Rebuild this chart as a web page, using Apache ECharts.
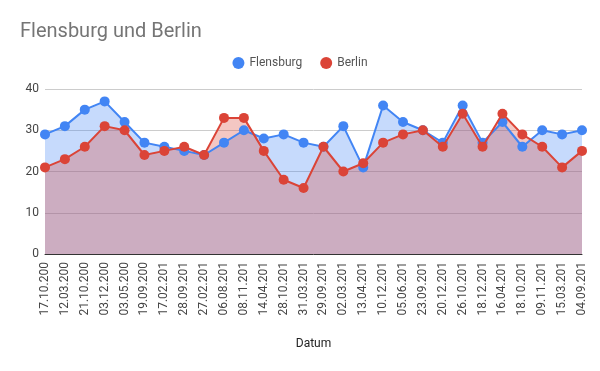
<!DOCTYPE html>
<html><head><meta charset="utf-8">
<script src="https://cdn.jsdelivr.net/npm/echarts@6/dist/echarts.min.js"></script>
<style>html,body{margin:0;padding:0;background:#fff}#c{width:600px;height:371px}</style>
</head><body><div id="c"></div>
<script>
const categories = ["17.10.200","12.03.200","21.10.200","03.12.200","03.05.200","19.09.200","17.02.201","28.09.201","27.02.201","06.08.201","08.11.201","14.04.201","28.10.201","31.03.201","29.09.201","02.03.201","13.04.201","10.12.201","05.06.201","23.09.201","20.12.201","26.10.201","18.12.201","16.04.201","18.10.201","09.11.201","15.03.201","04.09.201"];
const flensburg = [29,31,35,37,32,27,26,25,24,27,30,28,29,27,26,31,21,36,32,30,27,36,27,32,26,30,29,30];
const berlin = [21,23,26,31,30,24,25,26,24,33,33,25,18,16,26,20,22,27,29,30,26,34,26,34,29,26,21,25];
const yTicks = {min:0, max:40, interval:10};

const chart = echarts.init(document.getElementById('c'), null, {renderer:'canvas'});
const font = 'Roboto, Arial, sans-serif';
function area(name, data, color, z){
  return {name, type:'line', data, z, symbol:'none', showSymbol:false,
    lineStyle:{width:0, opacity:0}, itemStyle:{color},
    areaStyle:{color, opacity:0.3}, emphasis:{disabled:true}, silent:true};
}
function line(name, data, color, z){
  return {name, type:'line', data, z,
    symbol:'circle', symbolSize:10, showSymbol:true,
    lineStyle:{color, width:2}, itemStyle:{color}, emphasis:{disabled:true}};
}
chart.setOption({
  animation:false,
  textStyle:{fontFamily:font},
  title:{text:'Flensburg und Berlin', left:15, top:17,
    textStyle:{fontFamily:font, fontSize:20, fontWeight:'normal', color:'#757575'}},
  legend:{top:52, left:'center', itemGap:18, itemWidth:12, itemHeight:12, icon:'circle',
    textStyle:{fontFamily:font, fontSize:12, color:'#555'},
    data:['Flensburg','Berlin']},
  grid:{left:45, right:18, top:89, bottom:117},
  xAxis:{type:'category', data:categories, boundaryGap:false,
    name:'Datum', nameLocation:'middle', nameGap:84,
    nameTextStyle:{fontFamily:font, fontSize:12, color:'#222'},
    axisLine:{show:true, lineStyle:{color:'#333', width:1}},
    axisTick:{show:false},
    axisLabel:{rotate:90, interval:0, fontFamily:font, fontSize:12, color:'#444', margin:8}},
  yAxis:{type:'value', min:yTicks.min, max:yTicks.max, interval:yTicks.interval,
    axisLine:{show:false}, axisTick:{show:false},
    axisLabel:{fontFamily:font, fontSize:12, color:'#444', margin:6},
    splitLine:{lineStyle:{color:'#ccc', width:1}}},
  series:[area('Flensburg', flensburg, '#4285f4', 1), area('Berlin', berlin, '#db4437', 2),
          line('Flensburg', flensburg, '#4285f4', 3), line('Berlin', berlin, '#db4437', 4)]
});
</script></body></html>
